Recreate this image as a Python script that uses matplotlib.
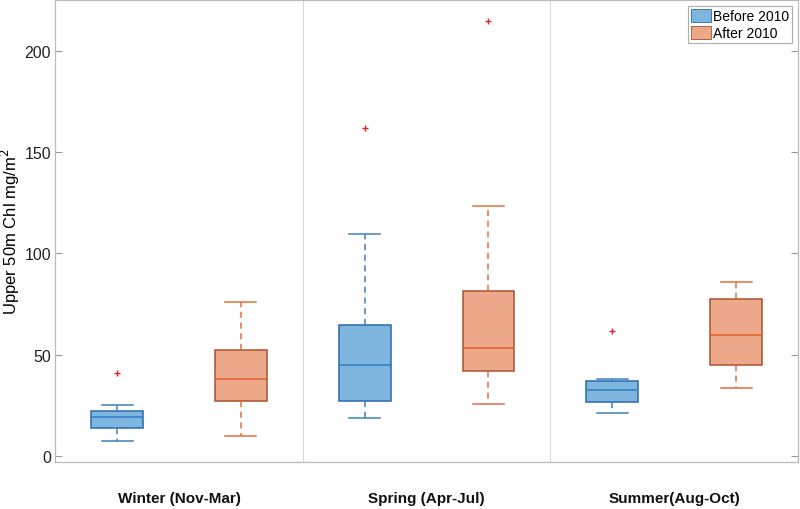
import matplotlib
matplotlib.use("Agg")
import matplotlib.pyplot as plt
from matplotlib.patches import Patch

plt.rcParams['font.family'] = ['Liberation Sans', 'DejaVu Sans']

seasons = ["Winter (Nov-Mar)", "Spring (Apr-Jul)", "Summer(Aug-Oct)"]
groups = ["Before 2010", "After 2010"]

# per box: [before winter, after winter, before spring, after spring, before summer, after summer]
q1 = [13.8, 27.1, 27.1, 42.1, 26.6, 45.0]
med = [19.2, 38.0, 44.9, 53.4, 32.7, 59.5]
q3 = [22.2, 52.1, 64.6, 81.4, 36.8, 77.5]
whislo = [7.5, 9.7, 18.6, 25.5, 21.2, 33.7]
whishi = [25.0, 76.0, 109.5, 123.6, 38.0, 86.1]
outliers = [[40.8], [], [161.8], [214.8], [61.8], []]

yticks = [0, 50, 100, 150, 200]

fill_cols = ["#7EB6E0", "#EDA88A"]
edge_cols = ["#2A6AAF", "#A8532F"]
med_cols = ["#2E7DC0", "#E0622A"]
whisk_cols = ["#3A80C0", "#E0703A"]

fig = plt.figure(figsize=(8, 5.1), dpi=100)
ax = fig.add_axes([0.069, 0.092, 0.9285, 0.906])

for i in range(6):
    g = i % 2
    st = [dict(q1=q1[i], med=med[i], q3=q3[i], whislo=whislo[i], whishi=whishi[i],
               fliers=outliers[i])]
    ax.bxp(st, positions=[i + 1], widths=0.42, patch_artist=True,
           boxprops=dict(facecolor=fill_cols[g], edgecolor=edge_cols[g], linewidth=1.1),
           medianprops=dict(color=med_cols[g], linewidth=1.1),
           whiskerprops=dict(color=whisk_cols[g], linestyle=(0, (4, 3)), linewidth=1.1),
           capprops=dict(color=whisk_cols[g], linewidth=1.1),
           capwidths=0.25,
           flierprops=dict(marker='+', markeredgecolor='#E8202A', markersize=4, markeredgewidth=1.0))

for xd in [2.5, 4.5]:
    ax.axvline(xd, color='#D8D8D8', linewidth=0.8, zorder=0)

ax.set_xlim(0.5, 6.5)
ax.set_ylim(-3, 225)
ax.set_yticks(yticks)
ax.set_yticklabels([str(v) for v in yticks], fontsize=11.5)
ax.set_xticks([])
ax.tick_params(axis='y', direction='in', left=True, right=True, length=5,
               color='#999999', labelcolor='#222222', pad=3)
for sp in ax.spines.values():
    sp.set_color('#BBBBBB')
    sp.set_linewidth(0.9)

ax.set_ylabel("Upper 50m Chl mg/m$^2$", fontsize=12)
ax.yaxis.set_label_coords(-0.045, 0.5)

for k, s in enumerate(seasons):
    ax.text(2 * k + 1.5, -0.077, s, transform=ax.get_xaxis_transform(),
            ha='center', va='center', fontsize=11, fontweight='bold', color='#111111')

handles = [Patch(facecolor=fill_cols[j], edgecolor=edge_cols[j], linewidth=0.6) for j in range(2)]
leg = ax.legend(handles, groups, loc='upper right', fontsize=10, frameon=True, fancybox=False,
                edgecolor='#999999', handlelength=1.4, handleheight=1.1, handletextpad=0.15,
                borderpad=0.25, labelspacing=0.15, borderaxespad=0.4)
leg.get_frame().set_linewidth(0.8)

fig.savefig("out.png", dpi=100)
